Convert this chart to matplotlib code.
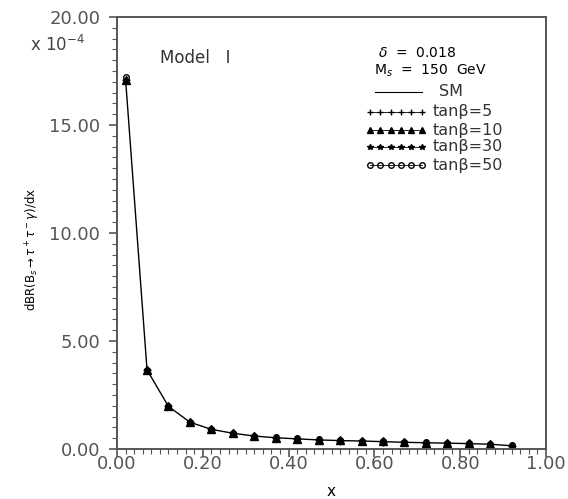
import matplotlib
matplotlib.use('Agg')
import matplotlib.pyplot as plt
import numpy as np

# data (values in units of 1e-4)
x = [0.02, 0.07, 0.12, 0.17, 0.22, 0.27, 0.32, 0.37, 0.42, 0.47,
     0.52, 0.57, 0.62, 0.67, 0.72, 0.77, 0.82, 0.87, 0.92]
sm = [17.1, 3.66, 1.97, 1.24, 0.91, 0.73, 0.60, 0.52, 0.47, 0.42,
      0.39, 0.37, 0.34, 0.31, 0.29, 0.27, 0.25, 0.22, 0.15]
tan5 = [17.1, 3.66, 1.97, 1.24, 0.91, 0.73, 0.60, 0.52, 0.47, 0.42,
        0.39, 0.37, 0.34, 0.31, 0.29, 0.27, 0.25, 0.22, 0.15]
tan10 = [17.1, 3.67, 1.98, 1.25, 0.92, 0.74, 0.61, 0.53, 0.48, 0.43,
         0.40, 0.38, 0.35, 0.32, 0.30, 0.28, 0.26, 0.23, 0.16]
tan30 = [17.1, 3.67, 1.98, 1.25, 0.92, 0.74, 0.61, 0.53, 0.48, 0.43,
         0.40, 0.38, 0.35, 0.32, 0.30, 0.28, 0.26, 0.23, 0.16]
tan50 = [17.2, 3.68, 1.99, 1.26, 0.93, 0.75, 0.62, 0.54, 0.49, 0.44,
         0.41, 0.39, 0.36, 0.33, 0.31, 0.29, 0.27, 0.24, 0.17]

fig = plt.figure(figsize=(5.68, 4.99), dpi=100)
ax = fig.add_axes([0.206, 0.1002, 0.7553, 0.8657])

ax.plot(x, sm, color='black', lw=1.0)
ax.plot(x, tan5, color='black', lw=0, marker='+', ms=6)
ax.plot(x, tan10, color='black', lw=0, marker='^', ms=6)
ax.plot(x, tan30, color='black', lw=0, marker='*', ms=5)
ax.plot(x, tan50, color='black', lw=0, marker='o', ms=4, mfc='none')

ax.set_xlim(0, 1)
ax.set_ylim(0, 20)
ax.set_xticks(np.arange(0, 1.01, 0.2))
ax.set_xticklabels(['0.00', '0.20', '0.40', '0.60', '0.80', '1.00'])
ax.set_yticks([0, 5, 10, 15, 20])
ax.set_yticklabels(['0.00', '5.00', '10.00', '15.00', '20.00'])
ax.set_xticks(np.arange(0, 1.001, 0.02), minor=True)
ax.set_yticks(np.arange(0, 20.01, 0.5), minor=True)
ax.tick_params(which='both', direction='out', labelsize=13, colors='#555555')
ax.tick_params(which='major', length=6, width=1.2)
ax.tick_params(which='minor', length=3.5, width=0.8)
ax.tick_params(axis='y', pad=6)
ax.tick_params(axis='x', pad=-2)
for s in ax.spines.values():
    s.set_linewidth(1.4)
    s.set_color('#555555')

ax.set_xlabel('x', fontsize=11, labelpad=8)
fig.text(0.058, 0.50, r'dBR(B$_s\rightarrow\tau^+\tau^-\gamma$)/dx', fontsize=8.5,
         rotation=90, ha='center', va='center')

fig.text(0.053, 0.91, r'x 10$^{-4}$', fontsize=12, color='#444444', va='center')
ax.text(0.10, 0.905, 'Model   I', transform=ax.transAxes, fontsize=12,
        va='center', color='#333333')

ax.text(0.608, 0.917, r'$\delta$  =  0.018', transform=ax.transAxes, fontsize=10,
        va='center')
ax.text(0.60, 0.876, r'M$_s$  =  150  GeV', transform=ax.transAxes, fontsize=10,
        va='center')
ys = [0.827, 0.781, 0.738, 0.70, 0.657]
labels = ['SM', 'tanβ=5', 'tanβ=10', 'tanβ=30', 'tanβ=50']
styles = [None, '+', '^', '*', 'o']
for yy, lab, mk in zip(ys, labels, styles):
    xs = np.linspace(0.59, 0.71, 6)
    if mk is None:
        ax.plot([0.602, 0.712], [yy, yy], color='black', lw=0.8,
                transform=ax.transAxes)
        ax.text(0.75, yy, lab, transform=ax.transAxes, fontsize=11.5,
                va='center', color='#333333')
    else:
        ax.plot(xs, [yy] * 6, color='black', lw=0.6, marker=mk, ms=4,
                mfc='none' if mk == 'o' else 'black', transform=ax.transAxes)
        ax.text(0.735, yy, lab, transform=ax.transAxes, fontsize=11.5,
                va='center', color='#333333')

fig.savefig('out.png', dpi=100)
